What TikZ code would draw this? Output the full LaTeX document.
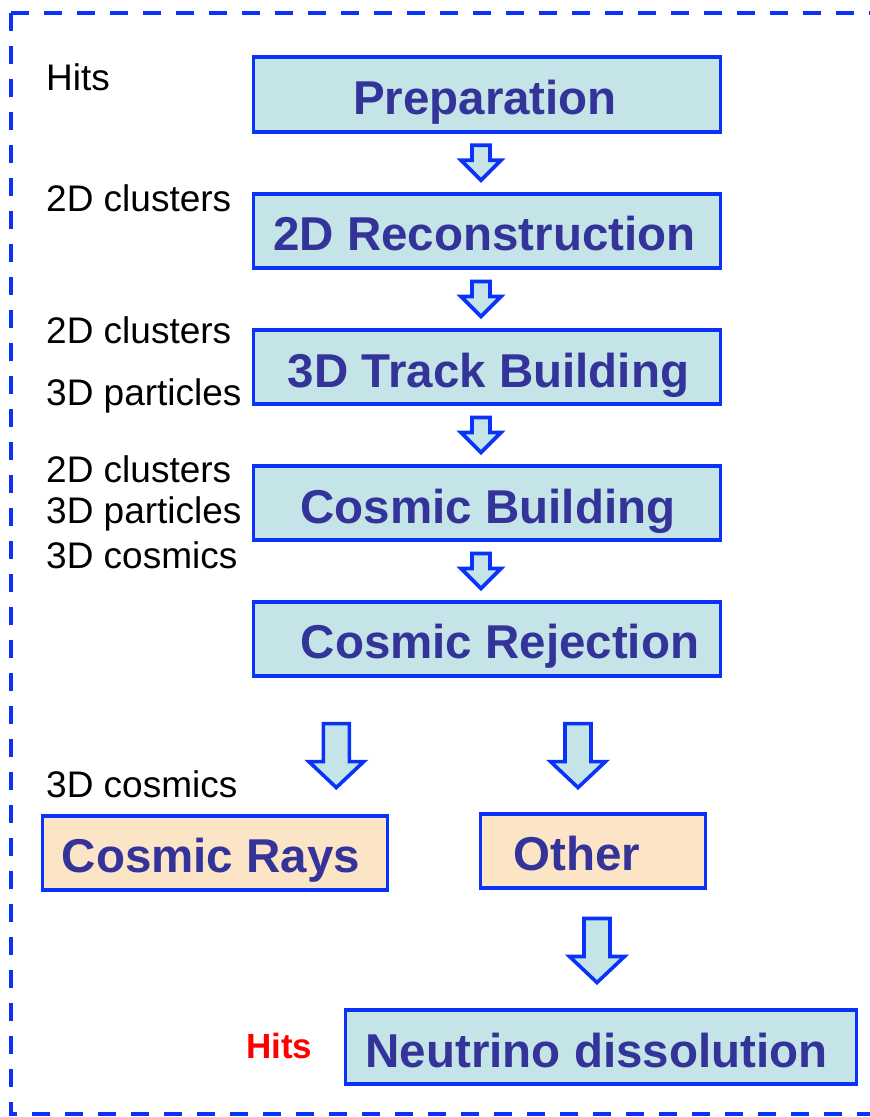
\documentclass[tikz,border=0pt]{standalone}
\usepackage{fontspec}
\setmainfont{Liberation Sans}
\usetikzlibrary{calc}

\definecolor{edgeblue}{RGB}{10,50,250}
\definecolor{stepfill}{RGB}{197,228,231}
\definecolor{resultfill}{RGB}{252,228,198}
\definecolor{titleblue}{RGB}{51,51,153}
\definecolor{hitred}{RGB}{255,0,0}

\tikzset{
  stagebox/.style={draw=edgeblue, line width=3.6pt, fill=stepfill, rectangle,
    inner sep=0pt, minimum height=74.5pt},
  resultbox/.style={stagebox, fill=resultfill},
  stagetext/.style={anchor=base, inner sep=0pt, text=titleblue,
    font=\fontsize{47.5}{56}\selectfont\bfseries},
  datalabel/.style={anchor=base west, inner sep=0pt, text=black,
    font=\fontsize{37}{44}\selectfont},
  blockarrow/.style={draw=edgeblue, line width=3.6pt, fill=stepfill, line join=miter},
  pics/smallarrow/.style={code={
    \draw[blockarrow] (-9,-17.5) -- (9,-17.5) -- (9,-2.5) -- (20,-2.5)
      -- (0,17.5) -- (-20,-2.5) -- (-9,-2.5) -- cycle;}},
  pics/bigarrow/.style={code={
    \draw[blockarrow] (-13,-32) -- (13,-32) -- (13,6) -- (27.5,6)
      -- (0,32) -- (-27.5,6) -- (-13,6) -- cycle;}},
}

\begin{document}
\begin{tikzpicture}[x=1pt, y=-1pt]
\useasboundingbox (0,0) rectangle (870,1117);

% dashed frame (right side runs past the page edge)
\draw[edgeblue, line width=4pt, dash pattern=on 18pt off 15pt]
  (11,13) -- (890,13);
\draw[edgeblue, line width=4pt, dash pattern=on 18pt off 15pt]
  (11,13) -- (11,1114) -- (890,1114);

% processing stages
\node[stagebox, minimum width=467pt] (prep)   at (487,94.5) {};
\node[stagebox, minimum width=467pt] (reco)   at (487,231) {};
\node[stagebox, minimum width=467pt] (track)  at (487,367) {};
\node[stagebox, minimum width=467pt] (cbuild) at (487,503) {};
\node[stagebox, minimum width=467pt] (crej)   at (487,639) {};
\node[resultbox, minimum width=345pt] (rays)  at (215,853) {};
\node[resultbox, minimum width=225pt] (other) at (593,851) {};
\node[stagebox, minimum width=511pt] (nu)     at (601,1047) {};

\node[stagetext] (prep-t)   at (485,114)   {Preparation};
\node[stagetext] (reco-t)   at (484.5,250) {2D Reconstruction};
\node[stagetext] (track-t)  at (488.5,387) {3D Track Building};
\node[stagetext] (cbuild-t) at (488,523)   {Cosmic Building};
\node[stagetext] (crej-t)   at (500,658)   {Cosmic Rejection};
\node[stagetext] (rays-t)   at (211,872)   {Cosmic Rays};
\node[stagetext] (other-t)  at (577,870)   {Other};
\node[stagetext] (nu-t)     at (596.5,1067) {Neutrino dissolution};

% flow arrows between stages
\pic at ($(prep.south)!.5!(reco.north)+(-6,0)$) {smallarrow};
\pic at ($(reco.south)!.5!(track.north)+(-6,0)$) {smallarrow};
\pic at ($(track.south)!.5!(cbuild.north)+(-6,0)$) {smallarrow};
\pic at ($(cbuild.south)!.5!(crej.north)+(-6,0)$) {smallarrow};
\pic at ($(crej.south -| rays.east)+(-53,77.5)$) {bigarrow};
\pic at ($(crej.south -| other.center)+(-15,77.5)$) {bigarrow};
\pic at ($(other.south)!.5!(nu.north)+(0,1.5)$) {bigarrow};

% data products available at each stage
\node[datalabel] (l-hits)   at (46,90)  {Hits};
\node[datalabel] (l-c2a)    at (46,211) {2D clusters};
\node[datalabel] (l-c2b)    at (46,343) {2D clusters};
\node[datalabel] (l-p3b)    at (46,405) {3D particles};
\node[datalabel] (l-c2c)    at (46,482) {2D clusters};
\node[datalabel] (l-p3c)    at (46,523) {3D particles};
\node[datalabel] (l-cos3c)  at (46,568) {3D cosmics};
\node[datalabel] (l-cos3d)  at (46,797) {3D cosmics};
\node[anchor=base west, inner sep=0pt, text=hitred,
  font=\fontsize{35}{42}\selectfont\bfseries] (l-hitsnu) at (246,1058) {Hits};
\end{tikzpicture}
\end{document}
